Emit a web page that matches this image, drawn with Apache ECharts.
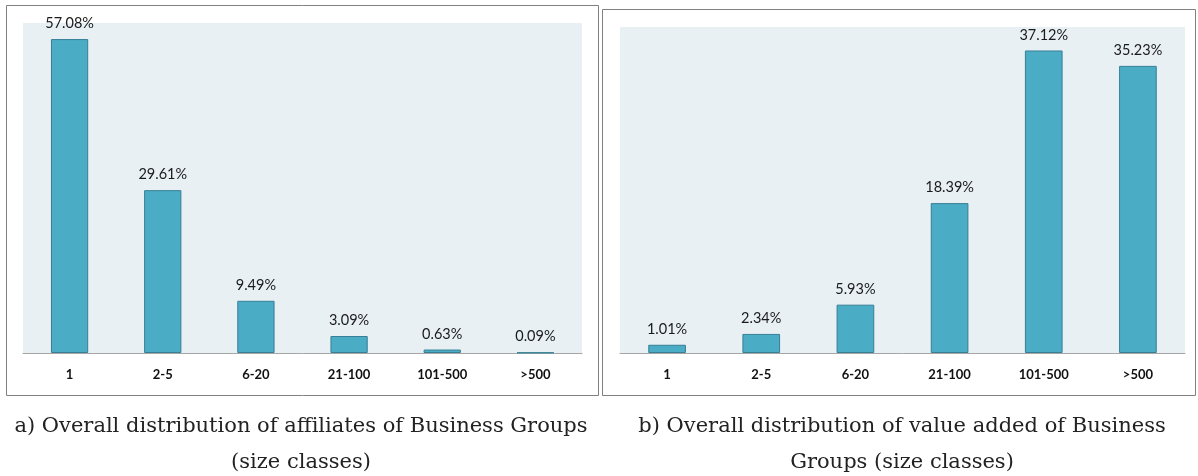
<!DOCTYPE html>
<html>
<head>
<meta charset="utf-8">
<script src="https://cdn.jsdelivr.net/npm/echarts@6/dist/echarts.min.js"></script>
<style>
    html, body { margin: 0; padding: 0; background: #fff; }
    #chart { width: 1198px; height: 476px; }
</style>
</head>
<body>
<div id="chart"></div>
<script>
// size classes of the business groups
const categories = ['1', '2-5', '6-20', '21-100', '101-500', '>500'];
// a) share of affiliates (%)
const affiliates = [57.08, 29.61, 9.49, 3.09, 0.63, 0.09];
// b) share of value added (%)
const valueAdded = [1.01, 2.34, 5.93, 18.39, 37.12, 35.23];

const barColor = '#4bacc6';
const labelFont = 'Lato, "Open Sans", sans-serif';
const captionFont = '"DejaVu Serif", serif';

function xAxisFor(idx) {
    return {
        type: 'category',
        gridIndex: idx,
        data: categories,
        axisTick: { show: false },
        axisLine: { lineStyle: { color: '#a6a6a6', width: 1 } },
        axisLabel: { color: '#111', fontFamily: labelFont, fontSize: 13, fontWeight: 'bold', margin: 15 }
    };
}

function yAxisFor(idx, max) {
    return {
        type: 'value',
        gridIndex: idx,
        min: 0,
        max: max,
        show: false,
        splitLine: { show: false }
    };
}

function barSeries(idx, data) {
    return {
        type: 'bar',
        xAxisIndex: idx,
        yAxisIndex: idx,
        data: data,
        barWidth: '40%',
        itemStyle: { color: barColor, borderColor: '#367f94', borderWidth: 1 },
        label: {
            show: true,
            position: 'top',
            distance: 8,
            color: '#1a1a1a',
            fontFamily: labelFont,
            fontSize: 14.5,
            formatter: (p) => p.value.toFixed(2) + '%'
        }
    };
}

function caption(x, y, text) {
    return {
        type: 'text', x: x, y: y,
        style: { text: text, fill: '#222', font: '21px ' + captionFont, align: 'center' }
    };
}

const chart = echarts.init(document.getElementById('chart'), null, { renderer: 'canvas' });

chart.setOption({
    animation: false,
    grid: [
        { left: 23, top: 23, width: 559, height: 330, show: true, backgroundColor: '#e8f0f4', borderWidth: 0 },
        { left: 620, top: 27, width: 565, height: 326, show: true, backgroundColor: '#e8f0f4', borderWidth: 0 }
    ],
    xAxis: [xAxisFor(0), xAxisFor(1)],
    yAxis: [yAxisFor(0, 60), yAxisFor(1, 40)],
    series: [barSeries(0, affiliates), barSeries(1, valueAdded)],
    graphic: [
        { type: 'rect', shape: { x: 6.5, y: 5.5, width: 592, height: 390 }, style: { fill: 'none', stroke: '#808080', lineWidth: 1 }, z: -1 },
        { type: 'rect', shape: { x: 602.5, y: 9.5, width: 593, height: 386 }, style: { fill: 'none', stroke: '#808080', lineWidth: 1 }, z: -1 },
        caption(301, 416, 'a) Overall distribution of affiliates of Business Groups'),
        caption(301, 452, '(size classes)'),
        caption(902, 416, 'b) Overall distribution of value added of Business'),
        caption(902, 452, 'Groups (size classes)')
    ]
});
</script>
</body>
</html>
